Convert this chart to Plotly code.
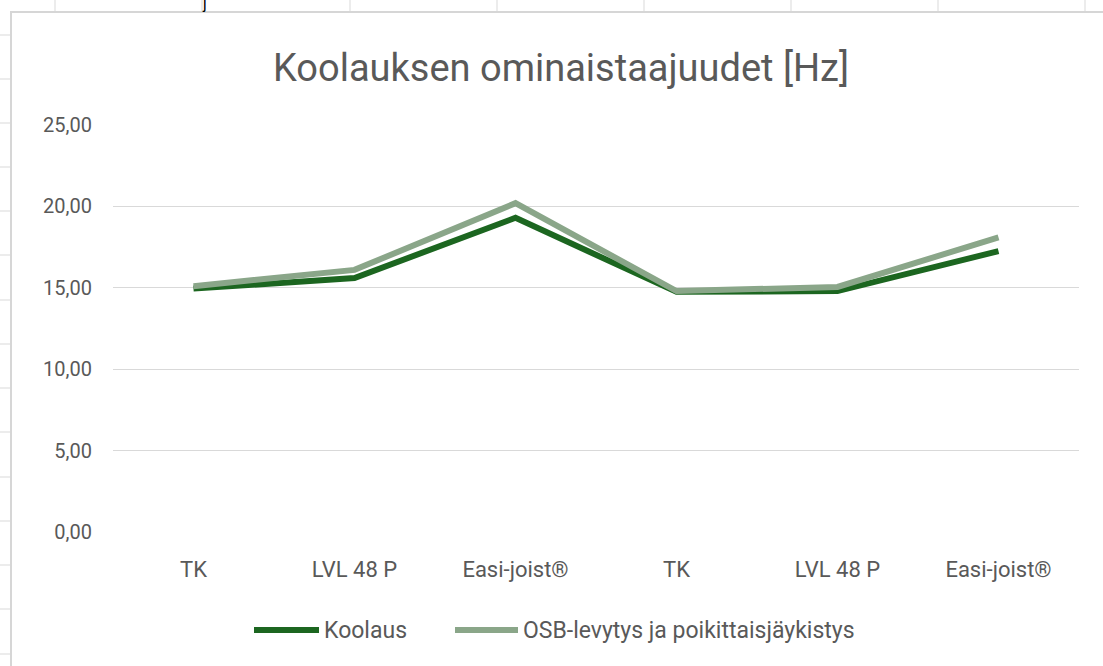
import plotly.graph_objects as go

categories = ["TK", "LVL 48 P", "Easi-joist®", "TK", "LVL 48 P", "Easi-joist®"]
series_names = ["Koolaus", "OSB-levytys ja poikittaisjäykistys"]
koolaus = [14.95, 15.6, 19.3, 14.75, 14.8, 17.25]
osb = [15.1, 16.1, 20.2, 14.8, 15.05, 18.1]
y_ticks = [0, 5, 10, 15, 20, 25]
y_ticktext = ["0,00", "5,00", "10,00", "15,00", "20,00", "25,00"]
title_text = "Koolauksen ominaistaajuudet [Hz]"

colors = ["#1C6620", "#8AA689"]
W, H = 1103, 666
L, R, T, B = 113, 1079, 125, 532  # plot area pixels

def px(x):
    return (x - L) / (R - L)

def py(y):
    return (B - y) / (B - T)

xs = list(range(len(categories)))
fig = go.Figure()
for name, vals, c in zip(series_names, [koolaus, osb], colors):
    fig.add_trace(go.Scatter(x=xs, y=vals, mode="lines", name=name,
                             line=dict(color=c, width=6), showlegend=False))

font_main = "Roboto, Arial, sans-serif"
fig.update_layout(
    width=W, height=H,
    margin=dict(l=L, r=W - R, t=T, b=H - B),
    paper_bgcolor="white", plot_bgcolor="white",
    xaxis=dict(range=[-0.5, len(categories) - 0.5], tickvals=xs, ticktext=categories,
               showgrid=False, zeroline=False, showline=False, ticks="",
               ticklabelstandoff=22,
               tickfont=dict(family=font_main, size=22, color="#595959")),
    yaxis=dict(range=[0, 25], tickvals=y_ticks, ticktext=y_ticktext,
               showgrid=True, gridcolor="#D9D9D9", gridwidth=1,
               zeroline=False, showline=False, ticks="",
               ticklabelstandoff=20,
               tickfont=dict(family=font_main, size=20, color="#595959")),
)

shapes = []
# spreadsheet background lines
shapes.append(dict(type="line", xref="paper", yref="paper", x0=px(10), x1=px(W), y0=py(12), y1=py(12),
                   line=dict(color="#D6D6D6", width=2)))
shapes.append(dict(type="line", xref="paper", yref="paper", x0=px(11), x1=px(11), y0=py(12), y1=py(H),
                   line=dict(color="#D6D6D6", width=2)))
for cx in [55, 202, 350, 497, 644, 791, 938, 1085]:
    shapes.append(dict(type="line", xref="paper", yref="paper", x0=px(cx), x1=px(cx), y0=py(0), y1=py(11),
                       line=dict(color="#D9D9D9", width=1)))
for ry in [35, 79, 123, 167, 211, 255, 300, 344, 388, 432, 477, 521, 565, 609, 654]:
    shapes.append(dict(type="line", xref="paper", yref="paper", x0=px(0), x1=px(10), y0=py(ry), y1=py(ry),
                       line=dict(color="#D9D9D9", width=1)))
# legend samples
leg = [(254, 319, 322), (455, 518, 521)]
for (x0, x1, tx), c in zip(leg, colors):
    shapes.append(dict(type="line", xref="paper", yref="paper", x0=px(x0), x1=px(x1), y0=py(630), y1=py(630),
                       line=dict(color=c, width=6)))
fig.update_layout(shapes=shapes)

annotations = [
    dict(text=title_text, xref="paper", yref="paper", x=px(561), y=py(68), showarrow=False,
         xanchor="center", yanchor="middle",
         font=dict(family=font_main, size=38, color="#595959")),
    dict(text="j", xref="paper", yref="paper", x=px(204), y=py(3), showarrow=False,
         xanchor="center", yanchor="middle", font=dict(family="Arial", size=16, color="black")),
]
for (x0, x1, tx), name in zip(leg, series_names):
    annotations.append(dict(text=name, xref="paper", yref="paper", x=px(tx), y=py(630), showarrow=False,
                            xanchor="left", yanchor="middle",
                            font=dict(family=font_main, size=23, color="#595959")))
fig.update_layout(annotations=annotations)

fig.write_html("out.html", config={"displayModeBar": False},
               post_script="document.body.style.margin='0';document.body.style.padding='0';")
